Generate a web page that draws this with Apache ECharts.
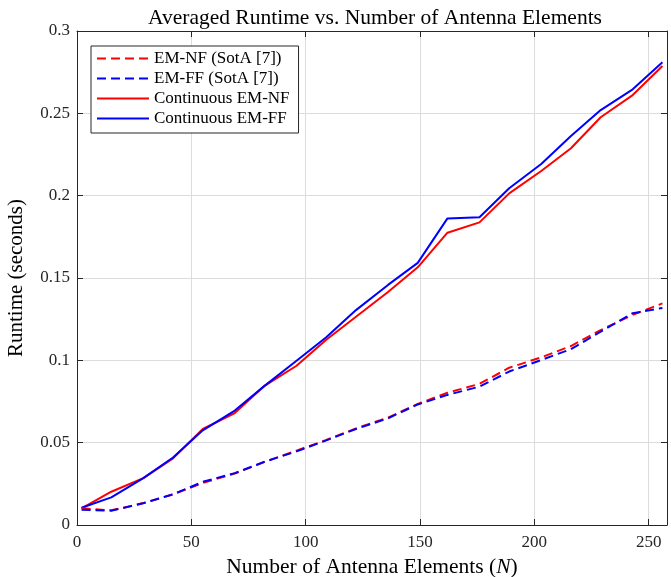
<!DOCTYPE html>
<html>
<head>
<meta charset="utf-8">
<script src="https://cdn.jsdelivr.net/npm/echarts@6/dist/echarts.min.js"></script>
<style>html,body{margin:0;padding:0;background:#fff}#c{width:671px;height:577px}</style>
</head>
<body>
<div id="c"></div>
<script>
const antennaN = [2,15,29,42,55,69,82,96,109,122,136,149,162,176,189,203,216,229,243,256];
const emNF = [0.0101,0.0089,0.0133,0.0186,0.0256,0.0313,0.0383,0.0452,0.0516,0.0587,0.0652,0.0735,0.0803,0.0857,0.0955,0.1018,0.1087,0.1184,0.1276,0.1346];
const emFF = [0.0093,0.0087,0.0132,0.0186,0.0262,0.0315,0.0384,0.0447,0.0514,0.0583,0.0648,0.0732,0.0790,0.0840,0.0932,0.1002,0.1068,0.1174,0.1286,0.1318];
const contNF = [0.0101,0.0202,0.0285,0.0405,0.0583,0.0680,0.0845,0.0967,0.1125,0.1265,0.1415,0.1565,0.1775,0.1838,0.2014,0.2150,0.2288,0.2476,0.2611,0.2787];
const contFF = [0.0105,0.0168,0.0285,0.0410,0.0575,0.0695,0.0845,0.0998,0.1140,0.1305,0.1458,0.1592,0.1862,0.1869,0.2045,0.2192,0.2362,0.2520,0.2646,0.2810];
const seriesNames = ['EM-NF (SotA [7])','EM-FF (SotA [7])','Continuous EM-NF','Continuous EM-FF'];

const FONT = '"Liberation Serif", "Times New Roman", serif';
const AX = '#262626';
const pairs = ys => antennaN.map((x,i)=>[x, ys[i]]);
function mk(name, ys, color, dashed){
  return {name, type:'line', data: pairs(ys), symbol:'none', symbolSize:0,
    lineStyle:{color, width:2, type: dashed ? [9,5] : 'solid'}, itemStyle:{color}, z: dashed?3:2, animation:false};
}
const chart = echarts.init(document.getElementById('c'));
chart.setOption({
  animation:false,
  backgroundColor:'#fff',
  title:{text:'Averaged Runtime vs. Number of Antenna Elements', left:370, top:2, textAlign:'center',
    textStyle:{fontFamily:FONT, fontSize:21.5, fontWeight:'normal', color:'#000'}},
  grid:{left:77, right:4, top:31, bottom:52, outerBoundsMode:'none', containLabel:false},
  legend:{orient:'vertical', left:91, top:46, itemWidth:52, itemHeight:16, itemGap:3,
    padding:[4,9,6,5], backgroundColor:'#fff', borderColor:AX, borderWidth:1, borderRadius:0,
    itemStyle:{opacity:0},
    textStyle:{fontFamily:FONT, fontSize:17, lineHeight:16, color:'#000'}, data:seriesNames},
  xAxis:[{type:'value', min:0, max:258, interval:50, position:'bottom',
    name:'Number of Antenna Elements ({i|N})', nameLocation:'middle', nameGap:31,
    nameTextStyle:{fontFamily:FONT, fontSize:21.5, color:'#000', rich:{i:{fontFamily:FONT, fontSize:21.5, fontStyle:'italic', color:'#000'}}},
    axisLine:{show:true, lineStyle:{color:AX, width:1}},
    axisTick:{show:true, inside:true, length:6, lineStyle:{color:AX}},
    axisLabel:{fontFamily:FONT, fontSize:17, color:AX, margin:9, showMaxLabel:false},
    splitLine:{show:true, lineStyle:{color:'#dcdcdc', width:1}}},
   {type:'value', min:0, max:258, interval:50, position:'top',
    axisLine:{show:true, onZero:false, lineStyle:{color:AX, width:1}},
    axisTick:{show:true, inside:true, length:6, lineStyle:{color:AX}},
    axisLabel:{show:false}, splitLine:{show:false}}],
  yAxis:[{type:'value', min:0, max:0.3, interval:0.05, position:'left',
    name:'Runtime (seconds)', nameLocation:'middle', nameGap:50,
    nameTextStyle:{fontFamily:FONT, fontSize:21, color:'#000'},
    axisLine:{show:true, lineStyle:{color:AX, width:1}},
    axisTick:{show:true, inside:true, length:6, lineStyle:{color:AX}},
    axisLabel:{fontFamily:FONT, fontSize:17, color:AX, margin:7},
    splitLine:{show:true, lineStyle:{color:'#dcdcdc', width:1}}},
   {type:'value', min:0, max:0.3, interval:0.05, position:'right',
    axisLine:{show:true, onZero:false, lineStyle:{color:AX, width:1}},
    axisTick:{show:true, inside:true, length:6, lineStyle:{color:AX}},
    axisLabel:{show:false}, splitLine:{show:false}}],
  series:[
    mk(seriesNames[0], emNF, '#ff0000', true),
    mk(seriesNames[1], emFF, '#0000ff', true),
    mk(seriesNames[2], contNF, '#ff0000', false),
    mk(seriesNames[3], contFF, '#0000ff', false)
  ]
});
</script>
</body>
</html>
